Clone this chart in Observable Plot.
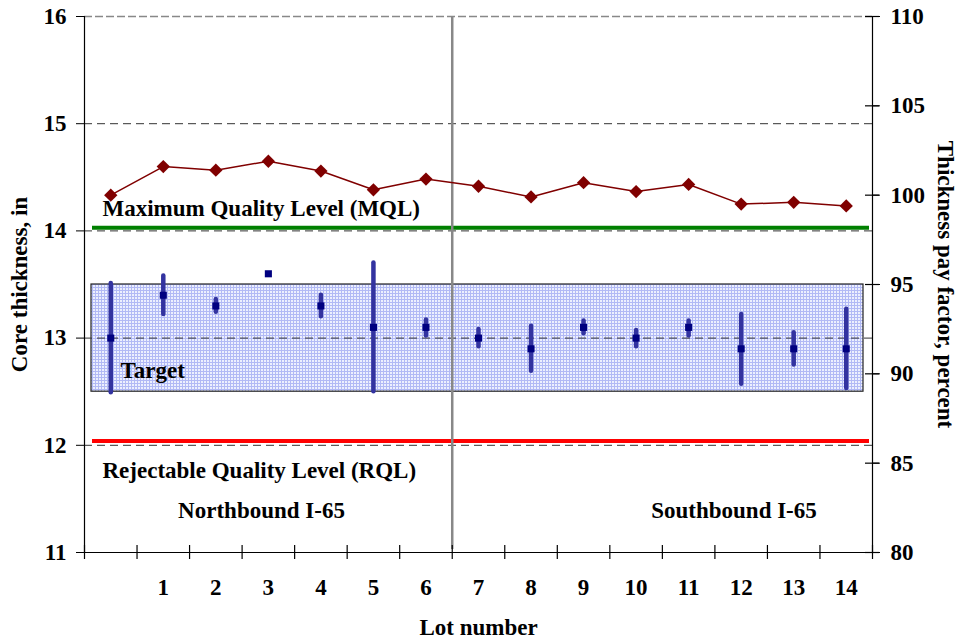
<!DOCTYPE html>
<html><head><meta charset="utf-8">
<script src="https://cdn.jsdelivr.net/npm/d3@7"></script>
<script src="https://cdn.jsdelivr.net/npm/@observablehq/plot@0.6"></script>
<style>body{margin:0;background:#fff} #chart svg{display:block}</style>
</head><body><div id="chart"></div>
<script>
// ---- data ----
const lots = [0, 1, 2, 3, 4, 5, 6, 7, 8, 9, 10, 11, 12, 13, 14];
const lotLabels = ["", "1", "2", "3", "4", "5", "6", "7", "8", "9", "10", "11", "12", "13", "14"];
const meanThickness = [13.0, 13.4, 13.3, 13.6, 13.3, 13.1, 13.1, 13.0, 12.9, 13.1, 13.0, 13.1, 12.9, 12.9, 12.9];
const minThickness = [12.49, 13.22, 13.24, null, 13.2, 12.5, 13.02, 12.92, 12.69, 13.04, 12.92, 13.02, 12.57, 12.75, 12.53];
const maxThickness = [13.51, 13.58, 13.36, null, 13.4, 13.7, 13.17, 13.08, 13.11, 13.16, 13.07, 13.16, 13.22, 13.05, 13.27];
const payFactor = [100.0, 101.6, 101.4, 101.9, 101.35, 100.3, 100.9, 100.5, 99.9, 100.7, 100.2, 100.6, 99.5, 99.6, 99.4];
const thicknessTicks = [11, 12, 13, 14, 15, 16];
const gridValues = [12, 13, 14, 15];
const payTicks = [80, 85, 90, 95, 100, 105, 110];
const targetRange = [12.5, 13.5];
const mqlLevel = [14.03];
const rqlLevel = [12.04];
const directionSplit = [6.5];

// ---- derived ----
const thicknessDomain = [11, 16];
const payDomain = [80, 110];
const toLeft = v => thicknessDomain[0] + (v - payDomain[0]) * (thicknessDomain[1] - thicknessDomain[0]) / (payDomain[1] - payDomain[0]);
const fromLeft = y => payDomain[0] + (y - thicknessDomain[0]) * (payDomain[1] - payDomain[0]) / (thicknessDomain[1] - thicknessDomain[0]);
const xDomain = [lots[0] - 0.5, lots[lots.length - 1] + 0.5];
const boundaries = lots.map(d => d - 0.5).concat([xDomain[1]]);
const rows = lots.map((lot, i) => ({lot, mean: meanThickness[i], lo: minThickness[i], hi: maxThickness[i], pay: payFactor[i]}));

const font = "'Liberation Serif', 'Times New Roman', serif";
const label = (txt, o) => Plot.text([txt], {fontWeight: "bold", lineAnchor: "middle", ...o});

const chart = Plot.plot({
  width: 959, height: 640,
  marginLeft: 84, marginRight: 87, marginTop: 16, marginBottom: 88,
  style: {fontFamily: font, fontSize: "23px", fontWeight: "bold", background: "#fff", color: "#000", overflow: "visible"},
  x: {type: "linear", domain: xDomain},
  y: {domain: thicknessDomain},
  marks: [
    Plot.rect([targetRange], {x1: xDomain[0], x2: xDomain[1], y1: d => d[0], y2: d => d[1], fill: "url(#blueGrid)", stroke: "#222", strokeWidth: 1.2, insetLeft: 7, insetRight: 9}),
    Plot.ruleY(gridValues, {stroke: "#333", strokeWidth: 1, strokeDasharray: "8,5"}),
    Plot.ruleY([thicknessDomain[1]], {stroke: "#888", strokeWidth: 1.5, strokeDasharray: "8,3"}),
    Plot.ruleY(mqlLevel, {stroke: "#008000", strokeWidth: 4, insetLeft: 8, insetRight: 3}),
    Plot.ruleY(rqlLevel, {stroke: "#ff0000", strokeWidth: 4, insetLeft: 8, insetRight: 3}),
    Plot.ruleX(directionSplit, {y1: thicknessDomain[1], y2: thicknessDomain[0], stroke: "#888", strokeWidth: 2.5, insetTop: 1, insetBottom: 3}),
    // axis lines
    Plot.ruleY([thicknessDomain[0]], {stroke: "#000", strokeWidth: 1.2}),
    Plot.ruleX([xDomain[0], xDomain[1]], {y1: thicknessDomain[1], y2: thicknessDomain[0], stroke: "#000", strokeWidth: 1.2}),
    // crossing ticks on x axis (between lots)
    Plot.ruleX(boundaries, {y1: thicknessDomain[0], y2: thicknessDomain[0], insetTop: -7, insetBottom: -7, stroke: "#000", strokeWidth: 1.2}),
    // crossing ticks on right axis
    Plot.ruleY(payTicks, {y: toLeft, x1: xDomain[1], x2: xDomain[1], insetLeft: -7, insetRight: -7, stroke: "#000", strokeWidth: 1.2}),
    // range bars
    Plot.ruleX(rows.filter(d => d.lo != null), {x: "lot", y1: "lo", y2: "hi", stroke: "#3333a0", strokeWidth: 4.5, strokeLinecap: "round"}),
    Plot.dot(rows, {x: "lot", y: "mean", symbol: "square", r: 4, fill: "#000080", stroke: "none"}),
    // pay factor
    Plot.line(rows, {x: "lot", y: d => toLeft(d.pay), stroke: "#800000", strokeWidth: 1.5}),
    Plot.dot(rows, {x: "lot", y: d => toLeft(d.pay), symbol: "diamond2", r: 6, fill: "#800000", stroke: "none"}),
    // axes
    Plot.axisY(thicknessTicks, {anchor: "left", tickSize: 8, tickPadding: 10, label: null, tickFormat: d => String(d), fontWeight: "bold"}),
    Plot.axisY(payTicks.map(toLeft), {anchor: "right", tickSize: 7, tickPadding: 11, label: null, tickFormat: y => String(Math.round(fromLeft(y))), fontWeight: "bold"}),
    Plot.axisX(lots.slice(1), {anchor: "bottom", tickSize: 0, tickPadding: 26, label: null, tickFormat: d => lotLabels[d], fontWeight: "bold"}),
    // annotations
    label("Maximum Quality Level (MQL)", {frameAnchor: "top-left", dx: 18, dy: 192, textAnchor: "start"}),
    label("Target", {frameAnchor: "top-left", dx: 36, dy: 354, textAnchor: "start"}),
    label("Rejectable Quality Level (RQL)", {frameAnchor: "top-left", dx: 18, dy: 454, textAnchor: "start"}),
    label("Northbound I-65", {frameAnchor: "top-left", dx: 177, dy: 494, textAnchor: "middle"}),
    label("Southbound I-65", {frameAnchor: "top-left", dx: 649.5, dy: 494, textAnchor: "middle"}),
    // axis titles
    label("Core thickness, in", {frameAnchor: "left", dx: -65, rotate: -90, textAnchor: "middle"}),
    label("Thickness pay factor, percent", {frameAnchor: "right", dx: 73, rotate: 90, textAnchor: "middle"}),
    label("Lot number", {frameAnchor: "bottom", dy: 75, textAnchor: "middle"})
  ]
});

chart.insertAdjacentHTML("afterbegin",
  '<defs><pattern id="blueGrid" width="3" height="3" patternUnits="userSpaceOnUse">' +
  '<rect width="3" height="3" fill="#b1b9f5"/><rect width="2" height="2" fill="#eceffe"/></pattern></defs>');
document.getElementById("chart").appendChild(chart);
</script>
</body></html>
